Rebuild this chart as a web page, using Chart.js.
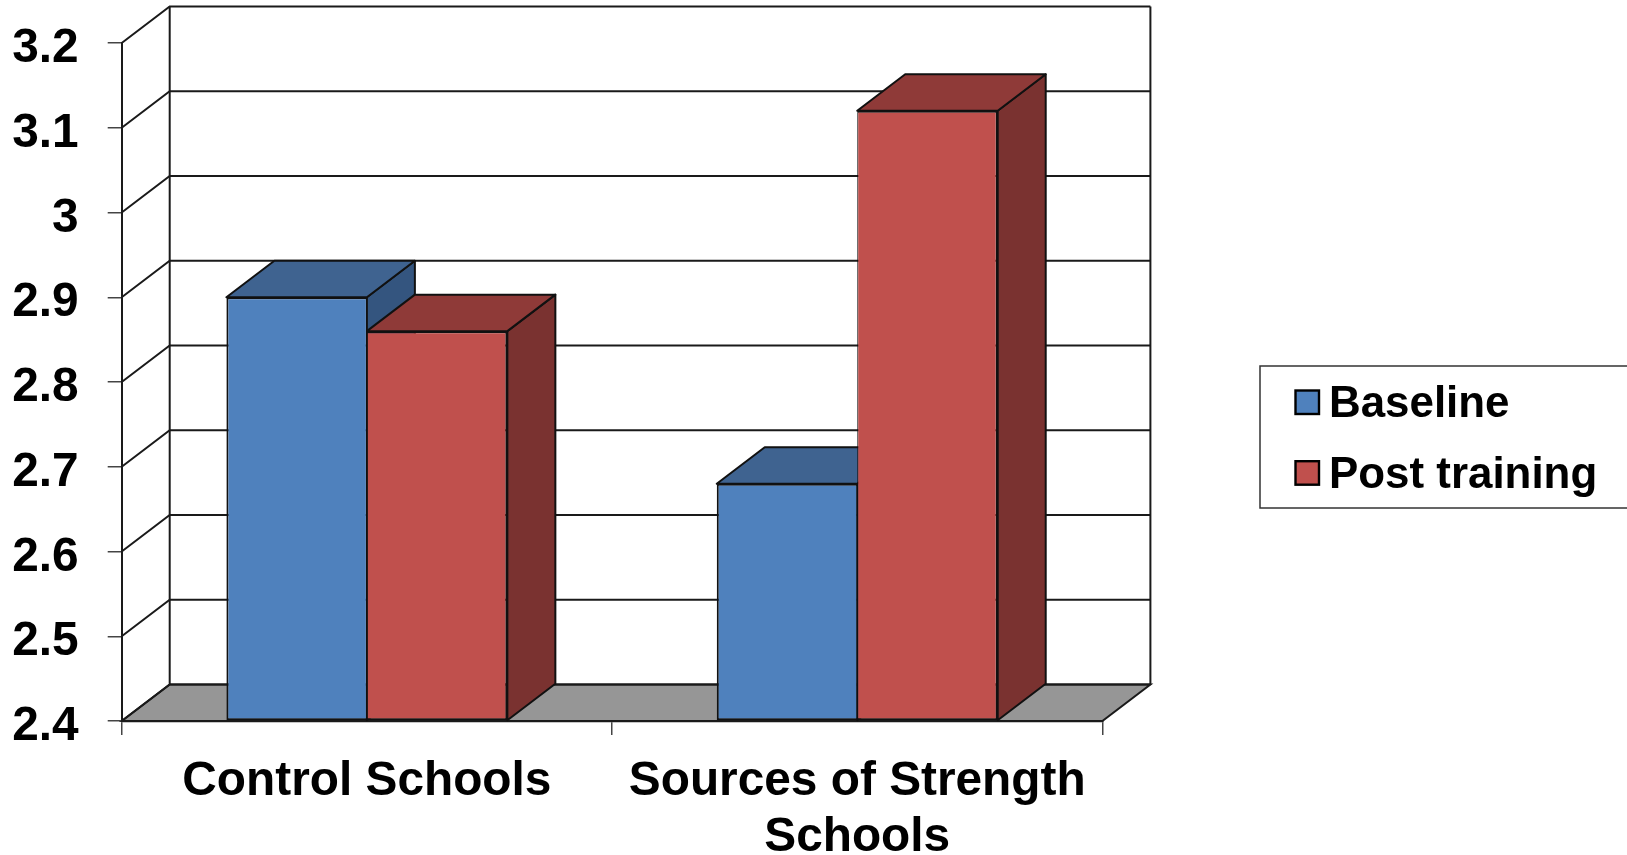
<!DOCTYPE html>
<html>
<head>
<meta charset="utf-8">
<title>Baseline vs Post training</title>
<style>
  html, body { margin: 0; padding: 0; background: #fff; overflow: hidden; }
  canvas { display: block; }
</style>
</head>
<body>
<canvas id="grafico" width="1627" height="855"></canvas>
<script src="https://cdn.jsdelivr.net/npm/chart.js@4"></script>
<script>
// Data
const categories = ['Control Schools', ['Sources of Strength', 'Schools']];
const baseline = [2.9, 2.68];
const postTraining = [2.86, 3.12];
const yTicks = [2.4, 2.5, 2.6, 2.7, 2.8, 2.9, 3, 3.1, 3.2];

const FONT = '"Liberation Sans", Arial, sans-serif';
const LINE = '#1a1a1a';
const DEPTH_X = 48, DEPTH_Y = 36.5; // offset of the back wall

const shades = {
  Baseline: { top: '#3f6390', side: '#34557f' },
  'Post training': { top: '#8f3a38', side: '#7a3230' }
};

function poly(ctx, pts, fill) {
  ctx.beginPath();
  pts.forEach((p, i) => i ? ctx.lineTo(p[0], p[1]) : ctx.moveTo(p[0], p[1]));
  ctx.closePath();
  ctx.fillStyle = fill;
  ctx.fill();
  ctx.stroke();
}

// Back wall, floor and grid, drawn under the axes
const walls = {
  id: 'walls',
  beforeDraw(chart) {
    const { ctx, chartArea: a, scales: { y } } = chart;
    const floorY = y.getPixelForValue(yTicks[0]);
    const topY = y.getPixelForValue(yTicks[yTicks.length - 1]);
    ctx.save();
    ctx.strokeStyle = LINE;
    ctx.lineWidth = 2;
    poly(ctx, [[a.left, floorY], [a.left + DEPTH_X, floorY - DEPTH_Y], [a.right + DEPTH_X, floorY - DEPTH_Y], [a.right, floorY]], '#969696');
    yTicks.forEach(v => {
      const py = y.getPixelForValue(v);
      ctx.beginPath();
      ctx.moveTo(a.left, py);
      ctx.lineTo(a.left + DEPTH_X, py - DEPTH_Y);
      ctx.lineTo(a.right + DEPTH_X, py - DEPTH_Y);
      ctx.stroke();
    });
    [a.left + DEPTH_X, a.right + DEPTH_X].forEach(px => {
      ctx.beginPath();
      ctx.moveTo(px, topY - DEPTH_Y);
      ctx.lineTo(px, floorY - DEPTH_Y);
      ctx.stroke();
    });
    ctx.restore();
  }
};

// Tops and sides of the bars, the library draws the front faces over them
const bars3d = {
  id: 'bars3d',
  beforeDatasetsDraw(chart) {
    const ctx = chart.ctx;
    ctx.save();
    ctx.strokeStyle = '#111';
    ctx.lineWidth = 2;
    ctx.lineJoin = 'round';
    categories.forEach((c, i) => {
      chart.data.datasets.forEach((ds, d) => {
        const b = chart.getDatasetMeta(d).data[i];
        const l = b.x - b.width / 2, r = b.x + b.width / 2;
        const s = shades[ds.label];
        poly(ctx, [[r, b.y], [r + DEPTH_X, b.y - DEPTH_Y], [r + DEPTH_X, b.base - DEPTH_Y], [r, b.base]], s.side);
        poly(ctx, [[l, b.y], [l + DEPTH_X, b.y - DEPTH_Y], [r + DEPTH_X, b.y - DEPTH_Y], [r, b.y]], s.top);
      });
    });
    ctx.restore();
  }
};

// Legend box, runs off the right edge as in the original
const legendBox = {
  id: 'legendBox',
  afterDraw(chart) {
    const ctx = chart.ctx;
    ctx.save();
    ctx.strokeStyle = '#333';
    ctx.lineWidth = 1.5;
    ctx.strokeRect(1260, 366, 400, 142);
    ctx.font = 'bold 43.9px ' + FONT;
    ctx.textBaseline = 'alphabetic';
    chart.data.datasets.forEach((ds, i) => {
      const top = 390.5 + i * 70.7;
      ctx.fillStyle = ds.backgroundColor;
      ctx.strokeStyle = '#000';
      ctx.lineWidth = 2.4;
      ctx.fillRect(1295.5, top, 23.5, 23.5);
      ctx.strokeRect(1295.5, top, 23.5, 23.5);
      ctx.fillStyle = '#000';
      ctx.fillText(ds.label, 1329, top + 26.5);
    });
    ctx.restore();
  }
};

new Chart(document.getElementById('grafico'), {
  type: 'bar',
  data: {
    labels: categories,
    datasets: [
      { label: 'Baseline', data: baseline, backgroundColor: '#4f81bd', borderWidth: { left: 2, top: 2, right: 1, bottom: 2 } },
      { label: 'Post training', data: postTraining, backgroundColor: '#c0504d', borderWidth: { left: 1, top: 2, right: 2, bottom: 2 } }
    ].map(ds => ({ ...ds, base: yTicks[0], borderColor: '#111', borderSkipped: false, categoryPercentage: 0.573, barPercentage: 1 }))
  },
  options: {
    responsive: false,
    animation: false,
    layout: { autoPadding: false, padding: { top: 43, right: 524.6, bottom: 0, left: 0 } },
    plugins: { legend: { display: false }, tooltip: { enabled: false } },
    scales: {
      x: {
        afterFit: s => { s.height = 134; },
        border: { color: LINE, width: 2.2 },
        grid: { drawOnChartArea: false, color: '#444', lineWidth: 1.5, tickLength: 14 },
        ticks: {
          color: '#000', padding: 19, maxRotation: 0, autoSkip: false,
          font: { family: FONT, weight: 'bold', size: 47.8, lineHeight: 1.17 }
        }
      },
      y: {
        min: yTicks[0],
        max: yTicks[yTicks.length - 1],
        afterFit: s => { s.width = 121.7; s.paddingTop = 0; s.paddingBottom = 0; },
        afterBuildTicks: s => { s.ticks = yTicks.map(value => ({ value })); },
        border: { color: LINE, width: 2 },
        grid: { drawOnChartArea: false, color: '#444', lineWidth: 1.5, tickLength: 14 },
        ticks: {
          color: '#000', padding: 29, labelOffset: 6,
          font: { family: FONT, weight: 'bold', size: 47.8 },
          callback: v => String(v)
        }
      }
    }
  },
  plugins: [walls, bars3d, legendBox]
});
</script>
</body>
</html>
